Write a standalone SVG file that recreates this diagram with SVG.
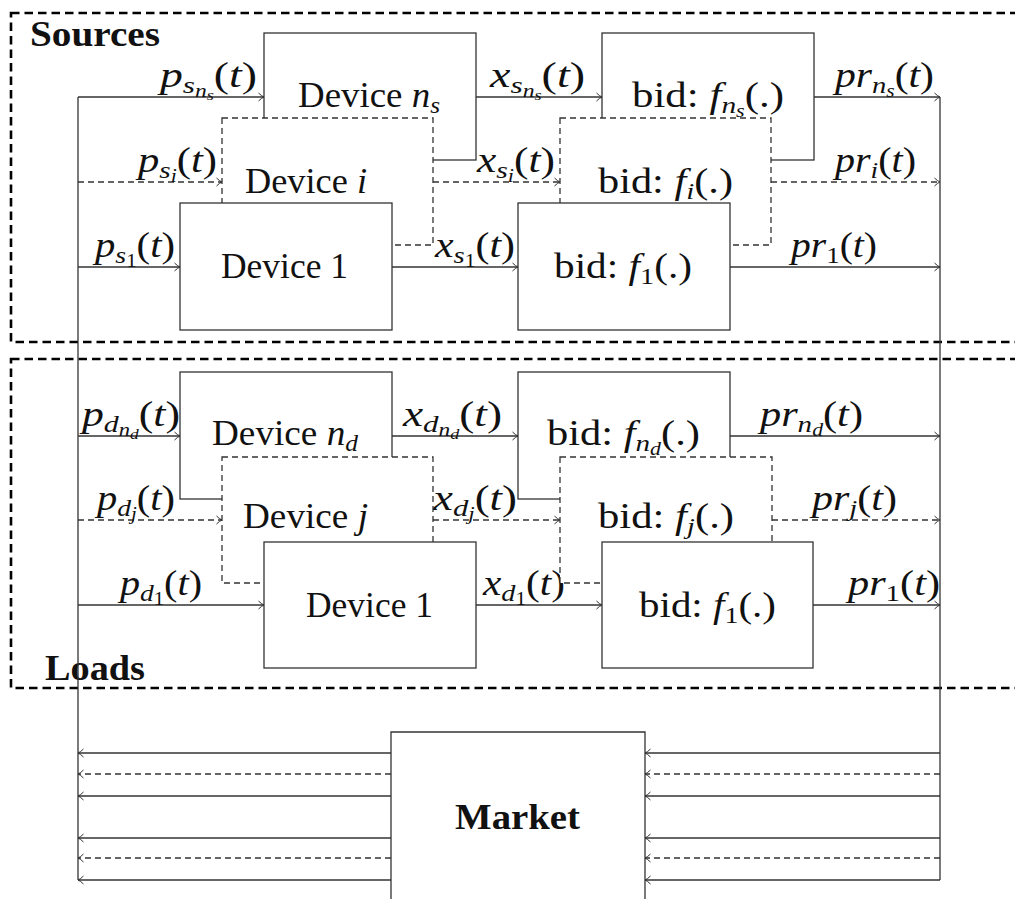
<svg xmlns="http://www.w3.org/2000/svg" width="1015" height="899" viewBox="0 0 1015 899" font-family="'Liberation Serif', 'DejaVu Serif', serif">
<style>
text{font-family:'Liberation Serif','DejaVu Serif',serif}
.t{font-size:35px;fill:#111}
.bold{font-weight:bold}
.i{font-style:italic}
.b{font-size:24px}
.c{font-size:18px}
.d{font-size:14px}
.box{fill:#fff;stroke:#333;stroke-width:1.3}
.dbox{fill:#fff;stroke:#333;stroke-width:1.3;stroke-dasharray:6 4}
.ln{fill:none;stroke:#333;stroke-width:1.3}
.dl{fill:none;stroke:#333;stroke-width:1.3;stroke-dasharray:6 4}
.reg{fill:none;stroke:#000;stroke-width:2.6;stroke-dasharray:8.5 5}
</style>
<defs>
<marker id="arr" viewBox="0 0 7 10" markerWidth="7" markerHeight="10" refX="6.5" refY="5" orient="auto" markerUnits="userSpaceOnUse">
<path d="M1,1 Q4,4 6.5,5 Q4,6 1,9" fill="none" stroke="#333" stroke-width="1"/>
</marker>
</defs>
<rect width="1015" height="899" fill="#fff"/>

<g id="region-sources">
<rect class="reg" x="11" y="13" width="1030" height="329"/>
<text class="t bold" x="30" y="46" textLength="130" lengthAdjust="spacingAndGlyphs">Sources</text>
</g>
<g id="region-loads">
<rect class="reg" x="11" y="359" width="1030" height="329"/>
<text class="t bold" x="45" y="680" textLength="100" lengthAdjust="spacingAndGlyphs">Loads</text>
</g>

<g id="connectors">
<path class="ln" d="M78,97 V880"/>
<path class="ln" d="M940,97 V880"/>
<path class="ln" d="M78,97 H264" marker-end="url(#arr)"/>
<path class="dl" d="M78,182 H222" marker-end="url(#arr)"/>
<path class="ln" d="M78,267 H180" marker-end="url(#arr)"/>
<path class="ln" d="M476,97 H602" marker-end="url(#arr)"/>
<path class="dl" d="M433,182 H560" marker-end="url(#arr)"/>
<path class="ln" d="M392,267 H518" marker-end="url(#arr)"/>
<path class="ln" d="M814,97 H940" marker-end="url(#arr)"/>
<path class="dl" d="M771,182 H940" marker-end="url(#arr)"/>
<path class="ln" d="M730,267 H940" marker-end="url(#arr)"/>
<path class="ln" d="M78,436 H180" marker-end="url(#arr)"/>
<path class="dl" d="M78,520 H222" marker-end="url(#arr)"/>
<path class="ln" d="M78,605 H264" marker-end="url(#arr)"/>
<path class="ln" d="M392,436 H518" marker-end="url(#arr)"/>
<path class="dl" d="M433,520 H560" marker-end="url(#arr)"/>
<path class="ln" d="M476,605 H602" marker-end="url(#arr)"/>
<path class="ln" d="M730,436 H940" marker-end="url(#arr)"/>
<path class="dl" d="M772,520 H940" marker-end="url(#arr)"/>
<path class="ln" d="M813,605 H940" marker-end="url(#arr)"/>
<path class="ln" d="M391,753 H78" marker-end="url(#arr)"/>
<path class="dl" d="M391,774 H78" marker-end="url(#arr)"/>
<path class="ln" d="M391,796 H78" marker-end="url(#arr)"/>
<path class="ln" d="M391,838 H78" marker-end="url(#arr)"/>
<path class="dl" d="M391,858 H78" marker-end="url(#arr)"/>
<path class="ln" d="M391,880 H78" marker-end="url(#arr)"/>
<path class="ln" d="M940,753 H645" marker-end="url(#arr)"/>
<path class="dl" d="M940,774 H645" marker-end="url(#arr)"/>
<path class="ln" d="M940,796 H645" marker-end="url(#arr)"/>
<path class="ln" d="M940,838 H645" marker-end="url(#arr)"/>
<path class="dl" d="M940,858 H645" marker-end="url(#arr)"/>
<path class="ln" d="M940,880 H645" marker-end="url(#arr)"/>

<text class="t" x="160" y="87" textLength="97" lengthAdjust="spacingAndGlyphs"><tspan class="i">p</tspan><tspan class="i b" dy="6">s</tspan><tspan class="i c" dy="4">n</tspan><tspan class="i d" dy="3">s</tspan><tspan dy="-13">(</tspan><tspan class="i">t</tspan>)</text>
<text class="t" x="138" y="172" textLength="79" lengthAdjust="spacingAndGlyphs"><tspan class="i">p</tspan><tspan class="i b" dy="6">s</tspan><tspan class="i c" dy="4">i</tspan><tspan dy="-10">(</tspan><tspan class="i">t</tspan>)</text>
<text class="t" x="95" y="257" textLength="80" lengthAdjust="spacingAndGlyphs"><tspan class="i">p</tspan><tspan class="i b" dy="6">s</tspan><tspan class="c" dy="4">1</tspan><tspan dy="-10">(</tspan><tspan class="i">t</tspan>)</text>
<text class="t" x="490" y="87" textLength="95" lengthAdjust="spacingAndGlyphs"><tspan class="i">x</tspan><tspan class="i b" dy="6">s</tspan><tspan class="i c" dy="4">n</tspan><tspan class="i d" dy="3">s</tspan><tspan dy="-13">(</tspan><tspan class="i">t</tspan>)</text>
<text class="t" x="477" y="172" textLength="78" lengthAdjust="spacingAndGlyphs"><tspan class="i">x</tspan><tspan class="i b" dy="6">s</tspan><tspan class="i c" dy="4">i</tspan><tspan dy="-10">(</tspan><tspan class="i">t</tspan>)</text>
<text class="t" x="435" y="257" textLength="80" lengthAdjust="spacingAndGlyphs"><tspan class="i">x</tspan><tspan class="i b" dy="6">s</tspan><tspan class="c" dy="4">1</tspan><tspan dy="-10">(</tspan><tspan class="i">t</tspan>)</text>
<text class="t" x="835" y="87" textLength="99" lengthAdjust="spacingAndGlyphs"><tspan class="i">pr</tspan><tspan class="i b" dy="6">n</tspan><tspan class="i c" dy="4">s</tspan><tspan dy="-10">(</tspan><tspan class="i">t</tspan>)</text>
<text class="t" x="835" y="172" textLength="81" lengthAdjust="spacingAndGlyphs"><tspan class="i">pr</tspan><tspan class="i b" dy="6">i</tspan><tspan dy="-6">(</tspan><tspan class="i">t</tspan>)</text>
<text class="t" x="791" y="257" textLength="86" lengthAdjust="spacingAndGlyphs"><tspan class="i">pr</tspan><tspan class="b" dy="6">1</tspan><tspan dy="-6">(</tspan><tspan class="i">t</tspan>)</text>
<text class="t" x="82" y="426" textLength="98" lengthAdjust="spacingAndGlyphs"><tspan class="i">p</tspan><tspan class="i b" dy="6">d</tspan><tspan class="i c" dy="4">n</tspan><tspan class="i d" dy="3">d</tspan><tspan dy="-13">(</tspan><tspan class="i">t</tspan>)</text>
<text class="t" x="97" y="510" textLength="78" lengthAdjust="spacingAndGlyphs"><tspan class="i">p</tspan><tspan class="i b" dy="6">d</tspan><tspan class="i c" dy="4">j</tspan><tspan dy="-10">(</tspan><tspan class="i">t</tspan>)</text>
<text class="t" x="120" y="595" textLength="82" lengthAdjust="spacingAndGlyphs"><tspan class="i">p</tspan><tspan class="i b" dy="6">d</tspan><tspan class="c" dy="4">1</tspan><tspan dy="-10">(</tspan><tspan class="i">t</tspan>)</text>
<text class="t" x="403" y="426" textLength="99" lengthAdjust="spacingAndGlyphs"><tspan class="i">x</tspan><tspan class="i b" dy="6">d</tspan><tspan class="i c" dy="4">n</tspan><tspan class="i d" dy="3">d</tspan><tspan dy="-13">(</tspan><tspan class="i">t</tspan>)</text>
<text class="t" x="433" y="510" textLength="84" lengthAdjust="spacingAndGlyphs"><tspan class="i">x</tspan><tspan class="i b" dy="6">d</tspan><tspan class="i c" dy="4">j</tspan><tspan dy="-10">(</tspan><tspan class="i">t</tspan>)</text>
<text class="t" x="483" y="595" textLength="82" lengthAdjust="spacingAndGlyphs"><tspan class="i">x</tspan><tspan class="i b" dy="6">d</tspan><tspan class="c" dy="4">1</tspan><tspan dy="-10">(</tspan><tspan class="i">t</tspan>)</text>
<text class="t" x="760" y="426" textLength="103" lengthAdjust="spacingAndGlyphs"><tspan class="i">pr</tspan><tspan class="i b" dy="6">n</tspan><tspan class="i c" dy="4">d</tspan><tspan dy="-10">(</tspan><tspan class="i">t</tspan>)</text>
<text class="t" x="812" y="510" textLength="85" lengthAdjust="spacingAndGlyphs"><tspan class="i">pr</tspan><tspan class="i b" dy="6">j</tspan><tspan dy="-6">(</tspan><tspan class="i">t</tspan>)</text>
<text class="t" x="848" y="595" textLength="92" lengthAdjust="spacingAndGlyphs"><tspan class="i">pr</tspan><tspan class="b" dy="6">1</tspan><tspan dy="-6">(</tspan><tspan class="i">t</tspan>)</text>
</g>

<g id="device-ns">
<rect class="box" x="264" y="33" width="212" height="127"/>
<text class="t" x="298" y="107" textLength="142" lengthAdjust="spacingAndGlyphs">Device <tspan class="i">n</tspan><tspan class="i b" dy="6">s</tspan></text>
</g>
<g id="device-i">
<rect class="dbox" x="222" y="118" width="211" height="127"/>
<text class="t" x="245" y="193" textLength="122" lengthAdjust="spacingAndGlyphs">Device <tspan class="i">i</tspan></text>
</g>
<g id="device-s1">
<rect class="box" x="180" y="203" width="212" height="127"/>
<text class="t" x="221" y="278" textLength="127" lengthAdjust="spacingAndGlyphs">Device 1</text>
</g>
<g id="bid-ns">
<rect class="box" x="602" y="33" width="212" height="127"/>
<text class="t" x="632" y="107" textLength="152" lengthAdjust="spacingAndGlyphs">bid: <tspan class="i">f</tspan><tspan class="i b" dy="6">n</tspan><tspan class="i c" dy="4">s</tspan><tspan dy="-10">(.)</tspan></text>
</g>
<g id="bid-i">
<rect class="dbox" x="560" y="118" width="211" height="127"/>
<text class="t" x="598" y="193" textLength="135" lengthAdjust="spacingAndGlyphs">bid: <tspan class="i">f</tspan><tspan class="i b" dy="6">i</tspan><tspan dy="-6">(.)</tspan></text>
</g>
<g id="bid-s1">
<rect class="box" x="518" y="203" width="212" height="127"/>
<text class="t" x="554" y="278" textLength="138" lengthAdjust="spacingAndGlyphs">bid: <tspan class="i">f</tspan><tspan class="b" dy="6">1</tspan><tspan dy="-6">(.)</tspan></text>
</g>

<g id="device-nd">
<rect class="box" x="180" y="372" width="212" height="127"/>
<text class="t" x="212" y="445" textLength="146" lengthAdjust="spacingAndGlyphs">Device <tspan class="i">n</tspan><tspan class="i b" dy="6">d</tspan></text>
</g>
<g id="device-j">
<rect class="dbox" x="222" y="457" width="211" height="126"/>
<text class="t" x="243" y="528" textLength="125" lengthAdjust="spacingAndGlyphs">Device <tspan class="i">j</tspan></text>
</g>
<g id="device-d1">
<rect class="box" x="264" y="542" width="212" height="126"/>
<text class="t" x="306" y="617" textLength="127" lengthAdjust="spacingAndGlyphs">Device 1</text>
</g>
<g id="bid-nd">
<rect class="box" x="518" y="372" width="212" height="127"/>
<text class="t" x="547" y="445" textLength="153" lengthAdjust="spacingAndGlyphs">bid: <tspan class="i">f</tspan><tspan class="i b" dy="6">n</tspan><tspan class="i c" dy="4">d</tspan><tspan dy="-10">(.)</tspan></text>
</g>
<g id="bid-j">
<rect class="dbox" x="560" y="457" width="212" height="126"/>
<text class="t" x="598" y="528" textLength="136" lengthAdjust="spacingAndGlyphs">bid: <tspan class="i">f</tspan><tspan class="i b" dy="6">j</tspan><tspan dy="-6">(.)</tspan></text>
</g>
<g id="bid-d1">
<rect class="box" x="602" y="542" width="211" height="126"/>
<text class="t" x="639" y="617" textLength="137" lengthAdjust="spacingAndGlyphs">bid: <tspan class="i">f</tspan><tspan class="b" dy="6">1</tspan><tspan dy="-6">(.)</tspan></text>
</g>

<g id="market">
<path class="box" d="M391,905 V732 H645 V905"/>
<text class="t bold" x="455" y="829" textLength="125" lengthAdjust="spacingAndGlyphs">Market</text>
</g>
</svg>
